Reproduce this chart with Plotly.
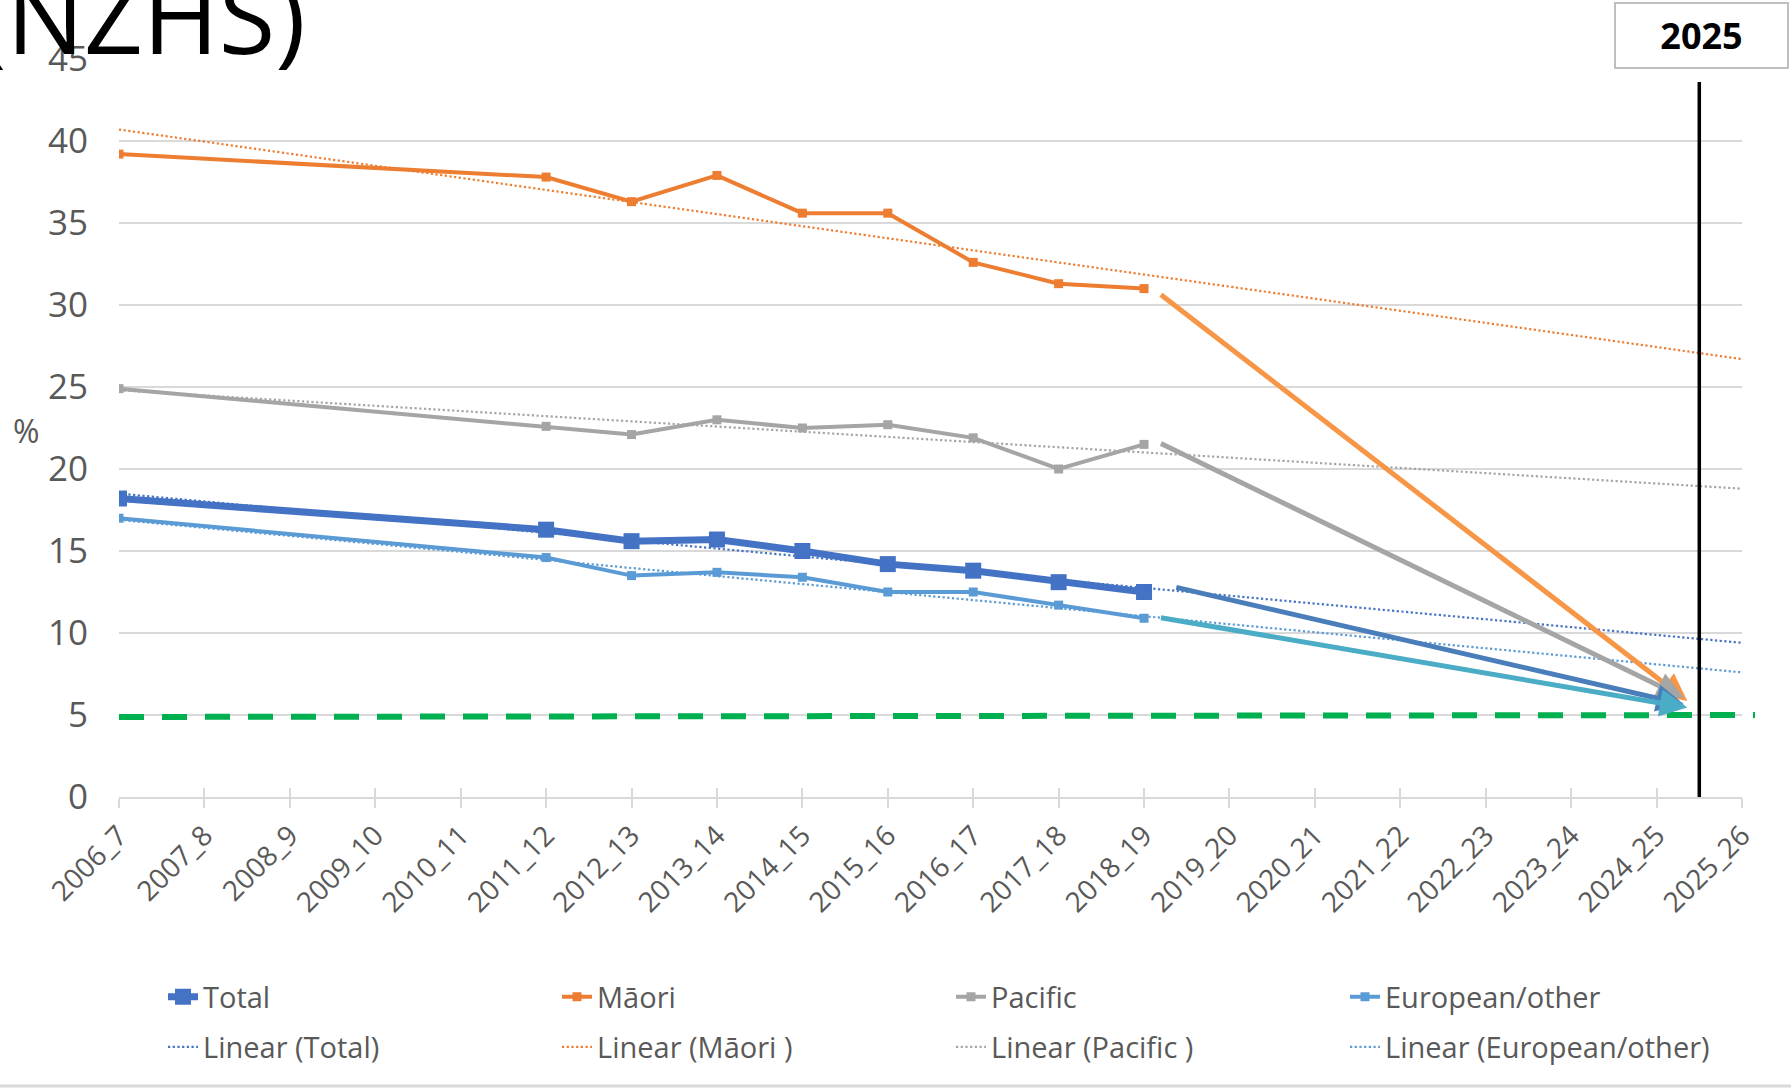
import plotly.graph_objects as go

categories = ["2006_7", "2007_8", "2008_9", "2009_10", "2010_11", "2011_12", "2012_13",
              "2013_14", "2014_15", "2015_16", "2016_17", "2017_18", "2018_19", "2019_20",
              "2020_21", "2021_22", "2022_23", "2023_24", "2024_25", "2025_26"]

N = None
total =    [18.2, N, N, N, N, 16.3, 15.6, 15.7, 15.0, 14.2, 13.8, 13.1, 12.5, N, N, N, N, N, N, N]
maori =    [39.2, N, N, N, N, 37.8, 36.3, 37.9, 35.6, 35.6, 32.6, 31.3, 31.0, N, N, N, N, N, N, N]
pacific =  [24.9, N, N, N, N, 22.6, 22.1, 23.0, 22.5, 22.7, 21.9, 20.0, 21.5, N, N, N, N, N, N, N]
european = [17.0, N, N, N, N, 14.6, 13.5, 13.7, 13.4, 12.5, 12.5, 11.7, 10.9, N, N, N, N, N, N, N]

# linear trend lines (start at 2006_7, end at 2025_26)
trend_total = [18.5, 9.4]
trend_maori = [40.7, 26.7]
trend_pacific = [24.8, 18.8]
trend_european = [16.9, 7.6]

# projection arrows: (tail x index, tail value, head x index, head value)
arrow_maori = [12.18, 30.7, 18.36, 5.85]
arrow_pacific = [12.18, 21.6, 18.32, 6.05]
arrow_total = [12.36, 12.8, 18.32, 5.65]
arrow_european = [12.18, 10.95, 18.36, 5.45]

target_line = [4.88, 5.0]
marker_year_x = 18.5

xi = list(range(len(categories)))
GRAY = "#595959"
FONT = "Open Sans"

fig = go.Figure()

series = [
    ("Total", total, "#4472C4", 7, 16),
    ("Māori", maori, "#ED7D31", 4, 9),
    ("Pacific", pacific, "#A5A5A5", 4, 9),
    ("European/other", european, "#5B9BD5", 4, 9),
]
for name, vals, col, lw, ms in series:
    fig.add_trace(go.Scatter(
        x=xi, y=vals, name=name, mode="lines+markers", connectgaps=True,
        line=dict(color=col, width=lw),
        marker=dict(symbol="square", size=ms, color=col),
        legend="legend", hoverinfo="skip"))

trends = [
    ("Linear (Total)", trend_total, "#4472C4"),
    ("Linear (Māori )", trend_maori, "#ED7D31"),
    ("Linear (Pacific )", trend_pacific, "#A5A5A5"),
    ("Linear (European/other)", trend_european, "#5B9BD5"),
]
for name, vals, col in trends:
    fig.add_trace(go.Scatter(
        x=[xi[0], xi[-1]], y=vals, name=name, mode="lines",
        line=dict(color=col, width=2.2, dash="2.2px,2.5px"),
        legend="legend2", hoverinfo="skip"))

# helper axis for the inward half of the crossing tick marks
fig.add_trace(go.Scatter(x=[0], y=[None], xaxis="x2", showlegend=False, hoverinfo="skip"))

W, H = 1791, 1089
L, R, T, B = 119, 49, 59, 292
pw, ph = W - L - R, H - T - B

def px(xp):
    return (xp - L) / pw

def py(yp):
    return (H - B - yp) / ph

fig.update_layout(
    width=W, height=H,
    margin=dict(l=L, r=R, t=T, b=B, pad=0),
    paper_bgcolor="white", plot_bgcolor="white",
    font=dict(family=FONT, color=GRAY),
    xaxis=dict(range=[0, 19], tickvals=xi, ticktext=categories, tickangle=-45,
               ticks="outside", ticklen=9, tickwidth=2, tickcolor="#D9D9D9",
               showline=True, linecolor="#D9D9D9", linewidth=2,
               showgrid=False, zeroline=False,
               tickfont=dict(size=28, color=GRAY, family=FONT)),
    xaxis2=dict(range=[0, 19], tickvals=xi, overlaying="x", anchor="y", side="bottom",
                ticks="inside", ticklen=9, tickwidth=2, tickcolor="#D9D9D9",
                showticklabels=False, showgrid=False, showline=False, zeroline=False),
    yaxis=dict(range=[0, 45], dtick=5, tick0=0, showgrid=True, gridcolor="#D9D9D9",
               gridwidth=1.5, showline=False, zeroline=False, ticks="",
               ticklabelstandoff=30,
               tickfont=dict(size=35, color=GRAY, family=FONT)),
    legend=dict(orientation="h", x=px(163), xanchor="left", y=py(997), yanchor="middle",
                entrywidth=349, entrywidthmode="pixels", traceorder="normal",
                font=dict(size=29, color=GRAY, family=FONT), bgcolor="rgba(0,0,0,0)"),
    legend2=dict(orientation="h", x=px(163), xanchor="left", y=py(1047), yanchor="middle",
                 entrywidth=349, entrywidthmode="pixels", traceorder="normal",
                 font=dict(size=29, color=GRAY, family=FONT), bgcolor="rgba(0,0,0,0)"),
    showlegend=True,
)

shapes = [
    dict(type="line", xref="paper", yref="y", x0=0, x1=px(1755),
         y0=target_line[0], y1=target_line[1],
         line=dict(color="#00B050", width=6, dash="25px,18px")),
    dict(type="line", xref="x", yref="paper", x0=marker_year_x, x1=marker_year_x,
         y0=0, y1=py(82), line=dict(color="black", width=3.5)),
    dict(type="line", xref="paper", yref="paper", x0=px(0), x1=px(W), y0=py(1086), y1=py(1086),
         line=dict(color="#D9D9D9", width=3)),
]
fig.update_layout(shapes=shapes)

annotations = [
    dict(text="%", xref="paper", yref="paper", x=px(26), y=py(430), showarrow=False,
         xanchor="center", yanchor="middle", font=dict(size=32, color=GRAY, family=FONT)),
    dict(text="(NZHS)", xref="paper", yref="paper", x=px(308), y=py(14), showarrow=False,
         xanchor="right", yanchor="middle", font=dict(size=103, color="black", family=FONT)),
    dict(text="<b>2025</b>", xref="paper", yref="paper", x=px(1701.5), y=py(35.5),
         showarrow=False, xanchor="center", yanchor="middle", width=171, height=63,
         bordercolor="#BFBFBF", borderwidth=2, borderpad=0, bgcolor="white",
         font=dict(size=36, color="black", family=FONT)),
]
for arr, col in [(arrow_maori, "#F79646"), (arrow_pacific, "#A5A5A5"),
                 (arrow_total, "#4A7EBB"), (arrow_european, "#4BACC6")]:
    annotations.append(dict(
        x=arr[2], y=arr[3], ax=arr[0], ay=arr[1], xref="x", yref="y", axref="x", ayref="y",
        text="", showarrow=True, arrowhead=2, arrowsize=1.1, arrowwidth=5,
        arrowcolor=col, standoff=0, startstandoff=0))
fig.update_layout(annotations=annotations)

fig.write_html("out.html", config={"displayModeBar": False},
               post_script="document.body.style.margin='0px';")
